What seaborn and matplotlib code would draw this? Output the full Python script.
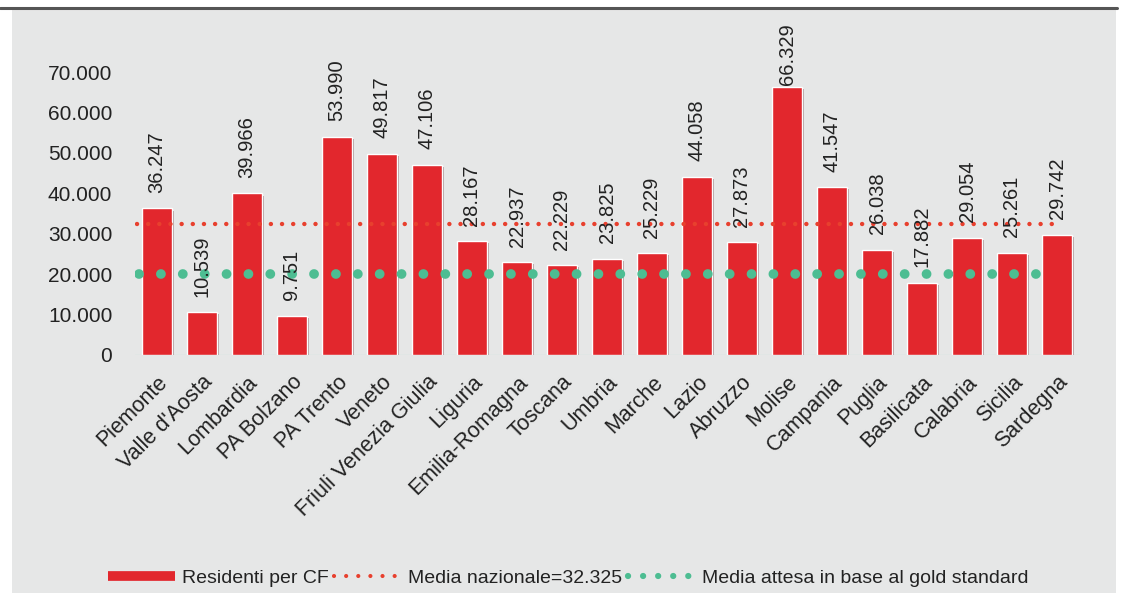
import matplotlib
matplotlib.use("Agg")
import matplotlib.pyplot as plt
import matplotlib.patheffects as pe
from matplotlib.lines import Line2D
from matplotlib.patches import Rectangle
import seaborn as sns
import pandas as pd

regions = ["Piemonte", "Valle d'Aosta", "Lombardia", "PA Bolzano", "PA Trento", "Veneto",
           "Friuli Venezia Giulia", "Liguria", "Emilia-Romagna", "Toscana", "Umbria", "Marche",
           "Lazio", "Abruzzo", "Molise", "Campania", "Puglia", "Basilicata", "Calabria",
           "Sicilia", "Sardegna"]
residents = [36247, 10539, 39966, 9751, 53990, 49817, 47106, 28167, 22937, 22229, 23825,
             25229, 44058, 27873, 66329, 41547, 26038, 17882, 29054, 25261, 29742]
value_labels = ["36.247", "10.539", "39.966", "9.751", "53.990", "49.817", "47.106", "28.167",
                "22.937", "22.229", "23.825", "25.229", "44.058", "27.873", "66.329", "41.547",
                "26.038", "17.882", "29.054", "25.261", "29.742"]
national_mean = 32325
gold_standard = 20000
yticks = [0, 10000, 20000, 30000, 40000, 50000, 60000, 70000]
ytick_labels = ["0", "10.000", "20.000", "30.000", "40.000", "50.000", "60.000", "70.000"]
legend_labels = ["Residenti per CF", "Media nazionale=32.325",
                 "Media attesa in base al gold standard"]

sns.set_style("white")
plt.rcParams['font.family'] = ['Liberation Sans', 'DejaVu Sans']

BAR = "#e2272d"
RED_DOT = "#e8402e"
GREEN = "#4dbd92"
BG = "#e6e7e7"
TXT = "#222222"
DPI = 100

fig = plt.figure(figsize=(11.28, 5.93), dpi=DPI)
fig.patch.set_facecolor("white")
fig.add_artist(Rectangle((12 / 1128, 0), (1116 - 12) / 1128, (593 - 8) / 593,
                         transform=fig.transFigure, facecolor=BG, edgecolor="none", zorder=0))
fig.add_artist(Line2D([0, 1117 / 1128], [1 - 7.5 / 593, 1 - 7.5 / 593],
                      transform=fig.transFigure, color="#555555", lw=2.2, zorder=1))

ax = fig.add_axes([134.5 / 1128, 1 - 355 / 593, 945 / 1128, 283 / 593])
ax.set_facecolor("none")

df = pd.DataFrame({"region": regions, "value": residents})
sns.barplot(data=df, x="region", y="value", color=BAR, width=0.67, saturation=1,
            ax=ax, zorder=2)
for p in ax.patches:
    p.set_path_effects([pe.SimplePatchShadow(offset=(1.5, -1.5), alpha=0.35), pe.Normal()])

ax.set_xlim(-0.5, 20.5)
ax.set_ylim(0, 70000)

# value labels: fixed gap above bar, but kept inside the chart area (as Excel does)
label_fs = 14.5
top_limit_px = 593 - 23
for i, (v, lab) in enumerate(zip(residents, value_labels)):
    bar_top = ax.transData.transform((i, v))[1]
    text_len = len(lab) * 0.51 * label_fs * DPI / 72
    bottom = bar_top + 15.5
    if bottom + text_len > top_limit_px:
        bottom = top_limit_px - text_len
    off_pts = (bottom - bar_top) * 72 / DPI
    ax.annotate(lab, (i, v), xytext=(0, off_pts), textcoords="offset points", rotation=90,
                ha="center", va="bottom", fontsize=label_fs, color=TXT, zorder=5,
                annotation_clip=False)

ax.plot([-0.45, 20.1], [national_mean, national_mean], color=RED_DOT, lw=3.2,
        linestyle=(0, (0.01, 2.5)), dash_capstyle="round", zorder=4)
ax.plot([-0.4, 19.6], [gold_standard, gold_standard], color=GREEN, lw=7.0,
        linestyle=(0, (0.01, 2.24)), dash_capstyle="round", zorder=4)

ax.set_yticks(yticks)
ax.set_yticklabels(ytick_labels, fontsize=15, color=TXT)
ax.set_xticks(range(len(regions)))
ax.set_xticklabels(regions, rotation=45, ha="right", rotation_mode="anchor",
                   fontsize=15.5, color=TXT)
ax.tick_params(axis="y", length=0, pad=16)
ax.tick_params(axis="x", length=0, pad=12)
ax.set_xlabel("")
ax.set_ylabel("")
for s in ax.spines.values():
    s.set_visible(False)
ax.axhline(0, color="#cfe3df", lw=1, zorder=1)

handles = [
    Line2D([0], [0], color=BAR, lw=7, solid_capstyle="butt"),
    Line2D([0], [0], color=RED_DOT, lw=3.0, linestyle=(0, (0.01, 2.9)), dash_capstyle="round"),
    Line2D([0], [0], color=GREEN, lw=4.5, linestyle=(0, (0.01, 2.4)), dash_capstyle="round"),
]
fig.legend(handles, legend_labels, loc="center left", bbox_to_anchor=(108 / 1128, 1 - 578 / 593),
           ncol=3, frameon=False, fontsize=14, handlelength=3.45, handletextpad=0.35,
           columnspacing=0.3, borderpad=0, borderaxespad=0, labelcolor=TXT)

fig.savefig("out.png", dpi=DPI, facecolor=fig.get_facecolor())
